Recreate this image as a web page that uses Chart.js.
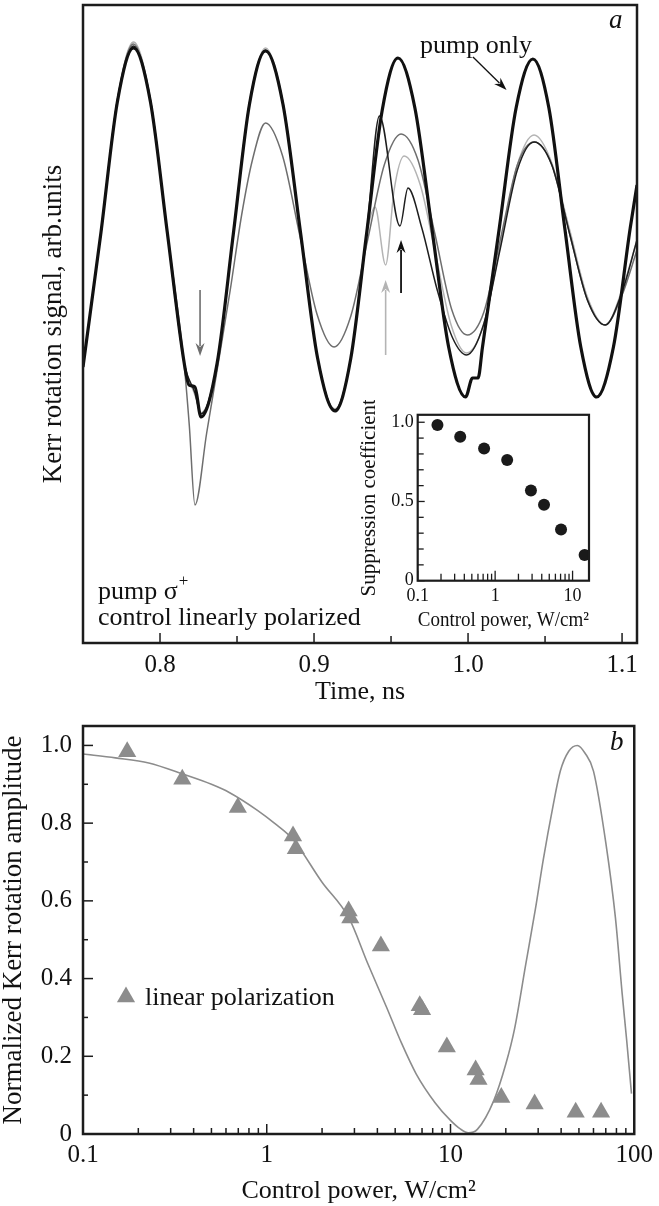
<!DOCTYPE html>
<html><head><meta charset="utf-8">
<script src="https://cdn.jsdelivr.net/npm/chart.js@4.4.0/dist/chart.umd.min.js"></script>
<style>
html,body{margin:0;padding:0;background:#fff;}
#wrap{position:relative;width:659px;height:1206px;background:#fff;overflow:hidden;}
canvas{position:absolute;}
</style></head><body>
<div id="wrap">
<canvas id="ca" width="659" height="710" style="left:0;top:0"></canvas>
<canvas id="cb" width="659" height="506" style="left:0;top:700px"></canvas>
<canvas id="ci" width="250" height="240" style="left:355px;top:400px"></canvas>
</div>
<script>
// ---------- Panel a: Kerr rotation signal vs time ----------
const timePump = [0.7500,0.7617,0.7723,0.7828,0.7938,0.8047,0.8157,0.8188,0.8227,0.8266,0.8371,0.8476,0.8580,0.8685,0.8798,0.8911,0.9023,0.9136,0.9238,0.9341,0.9443,0.9545,0.9655,0.9765,0.9874,0.9984,1.0029,1.0065,1.0093,1.0203,1.0312,1.0421,1.0525,1.0628,1.0732,1.0835,1.0944,1.1053,1.1097];
const sigPump  = [2.76,4.11,5.41,5.95,5.41,4.11,2.80,2.58,2.56,2.26,2.80,4.09,5.38,5.92,5.39,4.12,2.85,2.32,2.84,4.09,5.33,5.85,5.35,4.15,2.96,2.46,2.65,2.65,2.95,4.15,5.35,5.84,5.35,4.15,2.96,2.46,2.96,4.15,4.58];

const timeCtrlA = [0.7500,0.7617,0.7723,0.7828,0.7938,0.8047,0.8157,0.8190,0.8227,0.8303,0.8371,0.8456,0.8530,0.8600,0.8685,0.8796,0.8907,0.9019,0.9130,0.9239,0.9348,0.9456,0.9565,0.9675,0.9785,0.9895,0.9995,1.0103,1.0212,1.0320,1.0429,1.0544,1.0660,1.0775,1.0890,1.1000,1.1097];
const sigCtrlA  = [2.76,4.11,5.43,5.99,5.43,4.11,2.78,2.18,1.38,2.10,2.73,3.53,4.28,4.83,5.20,4.87,4.08,3.29,2.96,3.27,4.03,4.78,5.09,4.83,4.09,3.33,3.08,3.31,4.05,4.78,5.01,4.78,4.09,3.43,3.18,3.48,3.93];

const timeCtrlB = [0.7500,0.7617,0.7723,0.7828,0.7938,0.8047,0.8157,0.8227,0.8266,0.8371,0.8476,0.8580,0.8685,0.8798,0.8911,0.9023,0.9136,0.9238,0.9341,0.9396,0.9465,0.9520,0.9585,0.9690,0.9790,0.9890,0.9990,1.0100,1.0210,1.0320,1.0429,1.0544,1.0660,1.0775,1.0890,1.1000,1.1097];
const sigCtrlB  = [2.76,4.11,5.43,6.01,5.43,4.11,2.80,2.48,2.30,2.80,4.09,5.40,5.95,5.41,4.12,2.85,2.34,2.84,4.07,4.36,3.78,4.53,4.87,4.58,3.88,3.18,2.90,3.18,3.98,4.78,5.08,4.80,4.13,3.46,3.18,3.53,4.03];

const timeCtrlC = [0.7500,0.7617,0.7723,0.7828,0.7938,0.8047,0.8157,0.8227,0.8266,0.8371,0.8476,0.8580,0.8685,0.8798,0.8911,0.9023,0.9136,0.9238,0.9341,0.9425,0.9558,0.9610,0.9700,0.9800,0.9900,0.9990,1.0100,1.0210,1.0320,1.0429,1.0544,1.0660,1.0775,1.0890,1.1000,1.1097];
const sigCtrlC  = [2.76,4.11,5.42,5.97,5.42,4.11,2.80,2.50,2.29,2.80,4.09,5.39,5.93,5.40,4.12,2.85,2.33,2.84,4.09,5.27,4.17,4.55,4.15,3.53,3.05,2.88,3.18,3.95,4.73,5.01,4.78,4.09,3.43,3.18,3.51,4.03];

const timeMajorTicks = [0.8,0.9,1.0,1.1];
const timeMinorTicks = [0.85,0.95,1.05];

// arrows in panel a: [x0,y0,x1,y1] (data units), arrow head at (x1,y1)
const arrowCtrlA = [0.8260,3.53,0.8260,2.87];
const arrowCtrlB = [0.9465,2.88,0.9465,3.63];
const arrowCtrlC = [0.9565,3.50,0.9565,4.03];
const arrowPumpOnly = [1.0032,5.86,1.0250,5.53];

// ---------- Inset: suppression coefficient ----------
const insetPower = [0.18,0.354,0.72,1.43,2.9,4.28,7.1,14.3];
const insetCoef  = [0.982,0.908,0.834,0.761,0.569,0.479,0.323,0.162];
const insetYMajor = [0,0.5,1.0];
const insetYMinor = [0.1,0.2,0.3,0.4,0.6,0.7,0.8,0.9];
const insetXMajor = [0.1,1,10];
const insetXMinor = [0.2,0.3,0.4,0.5,0.6,0.7,0.8,0.9,2,3,4,5,6,7,8,9];

// ---------- Panel b: normalized Kerr rotation amplitude ----------
const powerB = [0.174,0.347,0.696,1.39,1.44,2.79,2.85,4.18,6.8,7.0,9.55,13.7,14.2,18.9,28.7,48,66];
const ampB   = [0.984,0.913,0.840,0.767,0.734,0.574,0.556,0.484,0.33,0.32,0.224,0.165,0.140,0.094,0.077,0.056,0.056];
const fitPower = [0.1,0.15,0.228,0.356,0.5,0.625,0.89,1.1,1.39,2.0,2.8,3.55,4.5,5.4,6.5,8.26,10,11.3,12.5,14,17.2,20,22.3,25.7,29,32,36,39.6,44,49,54,60,70,79,86,91,96.6];
const fitAmp   = [0.978,0.968,0.955,0.925,0.90,0.879,0.833,0.80,0.758,0.648,0.556,0.438,0.325,0.235,0.155,0.08,0.035,0.013,0.003,0.012,0.086,0.18,0.27,0.438,0.58,0.707,0.84,0.934,0.985,1.0,0.98,0.934,0.75,0.556,0.36,0.24,0.104];
const bYMajor = [0,0.2,0.4,0.6,0.8,1.0];
const bYMinor = [0.1,0.3,0.5,0.7,0.9];
const bXMajor = [0.1,1,10,100];
const bXMinor = [0.2,0.3,0.4,0.5,0.6,0.7,0.8,0.9,2,3,4,5,6,7,8,9,20,30,40,50,60,70,80,90];

// ---------- helpers ----------
const FONT = '"Liberation Serif","Times New Roman",serif';
const INK = '#1c1c1c';
const pts = (xs, ys) => xs.map((x, i) => ({x, y: ys[i]}));
function setTicks(major, minor){
  return s => {
    const all = major.map(v => ({value: v, major: true})).concat(minor.map(v => ({value: v, major: false})));
    all.sort((a, b) => a.value - b.value);
    s.ticks = all;
  };
}
function labelOf(major, fmt){
  return v => { for (const m of major) if (Math.abs(m - v) < 1e-9) return fmt(m); return ''; };
}
const fixedW = w => s => { s.width = w; };
const fixedH = h => s => { s.height = h; };

const framePlugin = {
  id: 'frameTicks',
  afterDatasetsDraw(chart, args, o) {
    const {ctx, chartArea: a} = chart;
    ctx.save();
    ctx.strokeStyle = INK; ctx.lineWidth = o.width || 2.5;
    ctx.strokeRect(a.left, a.top, a.right - a.left, a.bottom - a.top);
    ctx.lineWidth = o.tickWidth || 1.5;
    (o.axes || []).forEach(ax => {
      const s = chart.scales[ax.id];
      s.ticks.forEach(t => {
        const len = t.major ? ax.major : ax.minor;
        const p = s.getPixelForValue(t.value);
        ctx.beginPath();
        if (s.isHorizontal()) { ctx.moveTo(p, a.bottom); ctx.lineTo(p, a.bottom - len); }
        else { ctx.moveTo(a.left, p); ctx.lineTo(a.left + len, p); }
        ctx.stroke();
      });
    });
    ctx.restore();
  }
};
const insetBg = {
  id: 'insetBg',
  beforeDatasetsDraw(chart, args, o) {
    if (!o.on) return;
    const {ctx, chartArea: a} = chart;
    ctx.save(); ctx.fillStyle = '#fff'; ctx.fillRect(a.left, a.top, a.right - a.left, a.bottom - a.top); ctx.restore();
  }
};
function drawArrow(ctx, chart, arr, color, w){
  const xs = chart.scales.x, ys = chart.scales.y;
  const x0 = xs.getPixelForValue(arr[0]), y0 = ys.getPixelForValue(arr[1]);
  const x1 = xs.getPixelForValue(arr[2]), y1 = ys.getPixelForValue(arr[3]);
  const ang = Math.atan2(y1 - y0, x1 - x0), hl = 13, hw = 4.5;
  const bx = x1 - hl * Math.cos(ang), by = y1 - hl * Math.sin(ang);
  ctx.save();
  ctx.strokeStyle = color; ctx.fillStyle = color; ctx.lineWidth = w;
  ctx.beginPath(); ctx.moveTo(x0, y0); ctx.lineTo(bx + 3 * Math.cos(ang), by + 3 * Math.sin(ang)); ctx.stroke();
  ctx.beginPath();
  ctx.moveTo(x1, y1);
  ctx.lineTo(bx + hw * Math.sin(ang), by - hw * Math.cos(ang));
  ctx.lineTo(bx + 4 * Math.cos(ang), by + 4 * Math.sin(ang));
  ctx.lineTo(bx - hw * Math.sin(ang), by + hw * Math.cos(ang));
  ctx.closePath(); ctx.fill();
  ctx.restore();
}
const annoA = {
  id: 'annoA',
  afterDatasetsDraw(chart) {
    const ctx = chart.ctx;
    drawArrow(ctx, chart, arrowCtrlA, '#6e6e6e', 1.6);
    drawArrow(ctx, chart, arrowCtrlB, '#b4b4b4', 1.6);
    drawArrow(ctx, chart, arrowCtrlC, '#111', 1.8);
    drawArrow(ctx, chart, arrowPumpOnly, '#111', 1.3);
    ctx.save();
    ctx.fillStyle = '#111'; ctx.textBaseline = 'alphabetic'; ctx.textAlign = 'left';
    ctx.font = '26px ' + FONT;
    ctx.fillText('pump only', 420, 53);
    ctx.fillText('pump σ', 98, 599);
    const w = ctx.measureText('pump σ').width;
    ctx.font = '17px ' + FONT;
    ctx.fillText('+', 98 + w + 1, 586);
    ctx.font = '26px ' + FONT;
    ctx.fillText('control linearly polarized', 98, 625);
    ctx.font = 'italic 27px ' + FONT;
    ctx.fillText('a', 609, 28);
    ctx.restore();
  }
};
const annoB = {
  id: 'annoB',
  afterDatasetsDraw(chart) {
    const ctx = chart.ctx;
    ctx.save();
    ctx.fillStyle = '#8c8c8c';
    const cx = 126, cy = 297, r = 10.5;
    ctx.beginPath();
    ctx.moveTo(cx, cy - r);
    ctx.lineTo(cx + r * Math.sin(2 * Math.PI / 3), cy - r * Math.cos(2 * Math.PI / 3));
    ctx.lineTo(cx + r * Math.sin(4 * Math.PI / 3), cy - r * Math.cos(4 * Math.PI / 3));
    ctx.closePath(); ctx.fill();
    ctx.fillStyle = '#111'; ctx.textBaseline = 'alphabetic';
    ctx.font = '26px ' + FONT;
    ctx.fillText('linear polarization', 145, 305);
    ctx.font = 'italic 27px ' + FONT;
    ctx.fillText('b', 610, 50);
    ctx.restore();
  }
};

Chart.defaults.font.family = FONT;
Chart.defaults.color = '#111';

// ---------- Chart a ----------
new Chart(document.getElementById('ca'), {
  type: 'line',
  data: { datasets: [
    {data: pts(timePump, sigPump), borderColor: '#111', borderWidth: 3.2, pointRadius: 0, cubicInterpolationMode: 'monotone'},
    {data: pts(timeCtrlC, sigCtrlC), borderColor: '#1e1e1e', borderWidth: 1.5, pointRadius: 0, cubicInterpolationMode: 'monotone'},
    {data: pts(timeCtrlA, sigCtrlA), borderColor: '#6e6e6e', borderWidth: 1.5, pointRadius: 0, cubicInterpolationMode: 'monotone'},
    {data: pts(timeCtrlB, sigCtrlB), borderColor: '#b4b4b4', borderWidth: 1.5, pointRadius: 0, cubicInterpolationMode: 'monotone'}
  ]},
  options: {
    responsive: false, animation: false, events: [],
    layout: {padding: {top: 5, right: 22, left: 0, bottom: 0}},
    plugins: {legend: {display: false}, tooltip: {enabled: false},
      frameTicks: {width: 2.5, axes: [{id: 'x', major: 10, minor: 7}]}},
    scales: {
      x: {type: 'linear', min: 0.75, max: 1.1097,
        afterBuildTicks: setTicks(timeMajorTicks, timeMinorTicks), afterFit: fixedH(67),
        grid: {display: false, drawTicks: false}, border: {display: false},
        ticks: {autoSkip: false, maxRotation: 0, padding: 7, font: {size: 25}, color: '#111',
          callback: labelOf(timeMajorTicks, v => v.toFixed(1))},
        title: {display: true, text: 'Time, ns', font: {size: 26, lineHeight: 1}, color: '#111', padding: {top: 0, bottom: 5}}},
      y: {type: 'linear', min: 0, max: 6.38, afterFit: fixedW(83),
        grid: {display: false, drawTicks: false}, border: {display: false},
        ticks: {display: false},
        title: {display: true, text: 'Kerr rotation signal, arb.units', font: {size: 27, lineHeight: 1}, color: '#111', padding: {top: 40, bottom: 0}}}
    }
  },
  plugins: [framePlugin, annoA]
});

// ---------- Inset ----------
new Chart(document.getElementById('ci'), {
  type: 'scatter',
  data: { datasets: [
    {data: pts(insetPower, insetCoef), backgroundColor: '#1a1a1a', borderWidth: 0, pointRadius: 6}
  ]},
  options: {
    responsive: false, animation: false, events: [],
    layout: {padding: {top: 10, right: 16, left: 0, bottom: 0}},
    plugins: {legend: {display: false}, tooltip: {enabled: false}, insetBg: {on: true},
      frameTicks: {width: 2.2, tickWidth: 1.3, axes: [{id: 'x', major: 10, minor: 7}, {id: 'y', major: 7, minor: 6}]}},
    scales: {
      x: {type: 'logarithmic', min: 0.1, max: 16.3,
        afterBuildTicks: setTicks(insetXMajor, insetXMinor), afterFit: fixedH(59.3),
        grid: {display: false, drawTicks: false}, border: {display: false},
        ticks: {autoSkip: false, maxRotation: 0, padding: 5, font: {size: 18}, color: '#111',
          callback: labelOf(insetXMajor, v => String(v))},
        title: {display: true, text: 'Control power, W/cm²', font: {size: 21, lineHeight: 1}, color: '#111', padding: {top: 0, bottom: 9}}},
      y: {type: 'linear', min: 0, max: 1.047, afterFit: fixedW(62.7),
        afterBuildTicks: setTicks(insetYMajor, insetYMinor),
        grid: {display: false, drawTicks: false}, border: {display: false},
        ticks: {autoSkip: false, padding: 4, font: {size: 18}, color: '#111',
          callback: labelOf(insetYMajor, v => v === 0 ? '0' : v.toFixed(1))},
        title: {display: true, text: 'Suppression coefficient', font: {size: 21, lineHeight: 1}, color: '#111', padding: {top: 4, bottom: 0}}}
    }
  },
  plugins: [insetBg, framePlugin]
});

// ---------- Chart b ----------
new Chart(document.getElementById('cb'), {
  type: 'scatter',
  data: { datasets: [
    {data: pts(powerB, ampB), backgroundColor: '#8c8c8c', borderWidth: 0, pointStyle: 'triangle', pointRadius: 10.5},
    {type: 'line', data: pts(fitPower, fitAmp), borderColor: '#8c8c8c', borderWidth: 1.6, pointRadius: 0, cubicInterpolationMode: 'monotone'}
  ]},
  options: {
    responsive: false, animation: false, events: [],
    layout: {padding: {top: 17, right: 22, left: 0, bottom: 0}},
    plugins: {legend: {display: false}, tooltip: {enabled: false},
      frameTicks: {width: 2.5, axes: [{id: 'x', major: 10, minor: 6}, {id: 'y', major: 10, minor: 5}]}},
    scales: {
      x: {type: 'logarithmic', min: 0.1, max: 100,
        afterBuildTicks: setTicks(bXMajor, bXMinor), afterFit: fixedH(72),
        grid: {display: false, drawTicks: false}, border: {display: false},
        ticks: {autoSkip: false, maxRotation: 0, padding: 6, font: {size: 25}, color: '#111',
          callback: labelOf(bXMajor, v => String(v))},
        title: {display: true, text: 'Control power, W/cm²', font: {size: 26, lineHeight: 1}, color: '#111', padding: {top: 0, bottom: 2}}},
      y: {type: 'linear', min: 0, max: 1.05, afterFit: fixedW(83),
        afterBuildTicks: setTicks(bYMajor, bYMinor),
        grid: {display: false, drawTicks: false}, border: {display: false},
        ticks: {autoSkip: false, padding: 11, font: {size: 25}, color: '#111',
          callback: labelOf(bYMajor, v => v === 0 ? '0' : v.toFixed(1))},
        title: {display: true, text: 'Normalized Kerr rotation amplitude', font: {size: 27, lineHeight: 1}, color: '#111', padding: {top: 0, bottom: 0}}}
    }
  },
  plugins: [framePlugin, annoB]
});
</script>
</body></html>
